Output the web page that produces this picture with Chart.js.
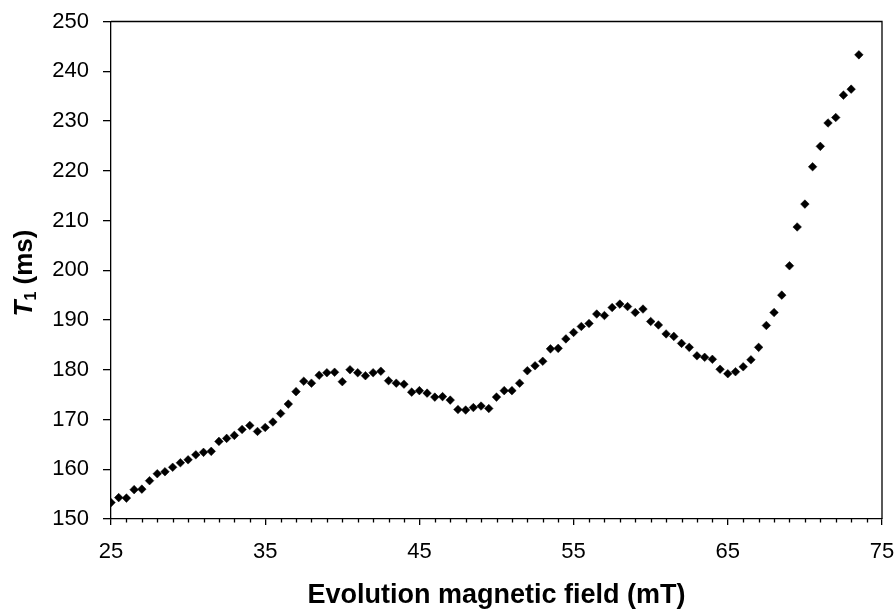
<!DOCTYPE html>
<html><head><meta charset="utf-8">
<script src="https://cdn.jsdelivr.net/npm/chart.js@4"></script>
<style>html,body{margin:0;padding:0;background:#fff}#wrap{width:895px;height:612px}</style>
</head><body><div id="wrap"><canvas id="c" width="895" height="612"></canvas></div>
<script>
const fieldMT = [25, 25.5, 26, 26.5, 27, 27.5, 28, 28.5, 29, 29.5,
  30, 30.5, 31, 31.5, 32, 32.5, 33, 33.5, 34, 34.5,
  35, 35.5, 36, 36.5, 37, 37.5, 38, 38.5, 39, 39.5,
  40, 40.5, 41, 41.5, 42, 42.5, 43, 43.5, 44, 44.5,
  45, 45.5, 46, 46.5, 47, 47.5, 48, 48.5, 49, 49.5,
  50, 50.5, 51, 51.5, 52, 52.5, 53, 53.5, 54, 54.5,
  55, 55.5, 56, 56.5, 57, 57.5, 58, 58.5, 59, 59.5,
  60, 60.5, 61, 61.5, 62, 62.5, 63, 63.5, 64, 64.5,
  65, 65.5, 66, 66.5, 67, 67.5, 68, 68.5, 69, 69.5,
  70, 70.5, 71, 71.5, 72, 72.5, 73, 73.5];
const t1ms = [153.3, 154.3, 154.2, 155.9, 156.0, 157.7, 159.1, 159.5, 160.4, 161.3,
  161.9, 162.9, 163.4, 163.6, 165.6, 166.2, 166.8, 168.0, 168.8, 167.6,
  168.4, 169.5, 171.2, 173.1, 175.6, 177.7, 177.3, 178.9, 179.4, 179.5,
  177.6, 180.0, 179.4, 178.8, 179.4, 179.7, 177.8, 177.3, 177.1, 175.5,
  175.8, 175.3, 174.5, 174.6, 173.9, 172.0, 171.9, 172.4, 172.7, 172.2,
  174.5, 175.8, 175.8, 177.3, 179.8, 180.8, 181.7, 184.2, 184.3, 186.2,
  187.5, 188.7, 189.3, 191.2, 190.9, 192.5, 193.2, 192.7, 191.5, 192.2,
  189.7, 189.0, 187.2, 186.7, 185.3, 184.5, 182.8, 182.5, 182.1, 180.1,
  179.2, 179.6, 180.6, 182.0, 184.5, 188.9, 191.5, 195.0, 200.9, 208.7,
  213.3, 220.8, 224.9, 229.6, 230.7, 235.2, 236.4, 243.3];
const xMajorTicks = [25, 35, 45, 55, 65, 75];
const yTicks = [150, 160, 170, 180, 190, 200, 210, 220, 230, 240, 250];
const xTitle = 'Evolution magnetic field (mT)';
const yTitleMain = 'T';
const yTitleSub = '1';
const yTitleRest = ' (ms)';
const FONT = '"Liberation Sans", Arial, Helvetica, sans-serif';

const framePlugin = {
  id: 'frame',
  afterDraw(chart) {
    const {ctx, chartArea: a, scales: {x}} = chart;
    ctx.save();
    ctx.strokeStyle = '#000';
    ctx.lineWidth = 1.3;
    ctx.beginPath();
    ctx.moveTo(a.left, a.top);
    ctx.lineTo(a.right, a.top);
    ctx.lineTo(a.right, a.bottom);
    ctx.stroke();
    // minor x ticks (every 1 mT)
    ctx.beginPath();
    for (let v = x.min; v <= x.max; v += 1) {
      if (xMajorTicks.includes(v)) continue;
      const px = Math.round(x.getPixelForValue(v)) + 0.5;
      ctx.moveTo(px, a.bottom);
      ctx.lineTo(px, a.bottom + 3.5);
    }
    ctx.stroke();
    // y axis title with italic T and subscript 1
    ctx.fillStyle = '#000';
    ctx.textBaseline = 'alphabetic';
    const fMain = 'italic bold 26px ' + FONT;
    const fSub = 'bold 16px ' + FONT;
    const fRest = 'bold 26px ' + FONT;
    ctx.font = fMain; const w1 = ctx.measureText(yTitleMain).width;
    ctx.font = fSub; const w2 = ctx.measureText(yTitleSub).width;
    ctx.font = fRest; const w3 = ctx.measureText(yTitleRest).width;
    const total = w1 + w2 + w3;
    ctx.translate(32, 273);
    ctx.rotate(-Math.PI / 2);
    let cx = -total / 2;
    ctx.font = fMain; ctx.fillText(yTitleMain, cx, 0); cx += w1;
    ctx.font = fSub; ctx.fillText(yTitleSub, cx, 4); cx += w2;
    ctx.font = fRest; ctx.fillText(yTitleRest, cx, 0);
    ctx.restore();
  }
};

new Chart(document.getElementById('c'), {
  type: 'scatter',
  data: {
    datasets: [{
      data: fieldMT.map((f, i) => ({x: f, y: t1ms[i]})),
      pointStyle: 'rectRot',
      pointRadius: 4.3,
      pointHoverRadius: 4.3,
      backgroundColor: '#000',
      borderColor: '#000',
      borderWidth: 0.5
    }]
  },
  options: {
    responsive: false,
    animation: false,
    devicePixelRatio: 1,
    layout: {padding: {top: 21.5, right: 13, left: 0, bottom: 0}},
    plugins: {legend: {display: false}, tooltip: {enabled: false}},
    scales: {
      x: {
        type: 'linear', min: 25, max: 75,
        afterBuildTicks: s => { s.ticks = xMajorTicks.map(v => ({value: v})); },
        afterFit: s => { s.height = 93; s.paddingLeft = 0; s.paddingRight = 0; },
        ticks: {color: '#000', font: {family: FONT, size: 22}, padding: 14, maxRotation: 0, autoSkip: false},
        grid: {drawOnChartArea: false, tickLength: 6, color: '#000', lineWidth: 1.3},
        border: {color: '#000', width: 1.3},
        title: {display: true, text: xTitle, color: '#000', font: {family: FONT, size: 27, weight: 'bold'}, padding: {top: 0, bottom: 0}}
      },
      y: {
        type: 'linear', min: 150, max: 250,
        afterBuildTicks: s => { s.ticks = yTicks.map(v => ({value: v})); },
        afterFit: s => { s.width = 111; s.paddingTop = 0; s.paddingBottom = 0; },
        ticks: {color: '#000', font: {family: FONT, size: 22}, padding: 14, autoSkip: false},
        grid: {drawOnChartArea: false, tickLength: 8, color: '#000', lineWidth: 1.3},
        border: {color: '#000', width: 1.3}
      }
    }
  },
  plugins: [framePlugin]
});
</script>
</body></html>
